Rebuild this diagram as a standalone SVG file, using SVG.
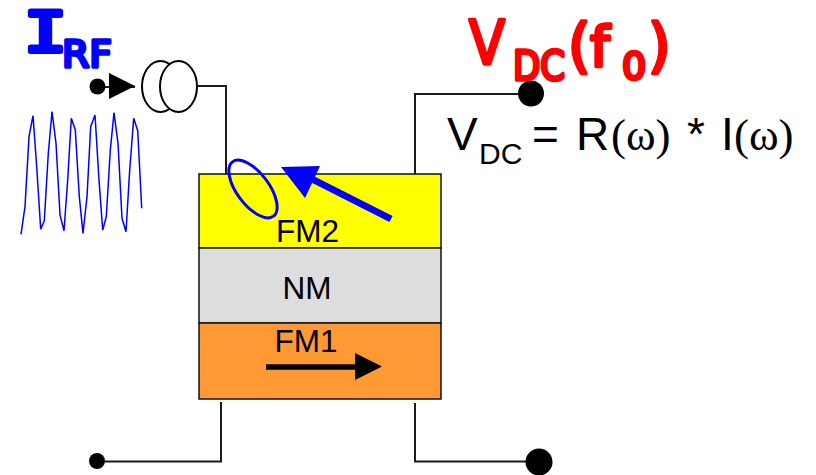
<svg xmlns="http://www.w3.org/2000/svg" width="816" height="475" viewBox="0 0 816 475">
<style>
.w{fill:none;stroke:#1a1a1a;stroke-width:2}
.lay{stroke:#111;stroke-width:1.5}
.t{font-family:"Liberation Sans",Arial,sans-serif;fill:#000}
.s{font-family:"Liberation Serif",serif;fill:#000}
.blue{font-family:"DejaVu Sans",sans-serif;fill:#00f;stroke:#00f;stroke-width:3.500;stroke-linejoin:round}
.red{font-family:"DejaVu Sans",sans-serif;fill:#f00;stroke:#f00;stroke-width:3.500;stroke-linejoin:round}
.dot{fill:#000}
</style>
<rect width="816" height="475" fill="#fff"/>
<g id="connectors">
<path class="w" d="M198 86H226V174"/>
<path class="w" d="M415 174V94H530"/>
<path class="w" d="M221 402V461.500H97"/>
<path class="w" d="M415 403V461.500H539"/>
<path class="w" d="M97 87H135"/>
<path d="M109 73L135 86L109 99Z" fill="#000"/>
</g>
<g id="stack">
<g id="fm2"><rect class="lay" x="199" y="174" width="242" height="74" fill="#ff0"/><text class="t" x="307.500" y="241.500" font-size="31.500" text-anchor="middle">FM2</text></g>
<g id="nm"><rect class="lay" x="199" y="248" width="242" height="75" fill="#ddd"/><text class="t" x="307" y="299" font-size="31.500" text-anchor="middle">NM</text></g>
<g id="fm1"><rect class="lay" x="199" y="323" width="242" height="76" fill="#f93"/><text class="t" x="306" y="351.500" font-size="31.500" text-anchor="middle">FM1</text></g>
</g>
<g id="fm1-arrow"><path d="M266 367H360" stroke="#000" stroke-width="5.500" fill="none"/><path d="M355 353L382 366.500L355 380Z" fill="#000"/></g>
<g id="fm2-arrow"><path d="M391 219L310 178" stroke="#00f" stroke-width="7" fill="none"/><path d="M281 167L320 166L305 198Z" fill="#00f"/></g>
<g id="loop"><ellipse cx="253" cy="189" rx="16" ry="34" transform="rotate(-37 253 189)" fill="none" stroke="#00f" stroke-width="3"/></g>
<g id="source">
<ellipse cx="160.500" cy="86.500" rx="18.500" ry="25.500" fill="#fff" stroke="#000" stroke-width="2"/>
<ellipse cx="178.500" cy="86.500" rx="18.500" ry="25.500" fill="#fff" stroke="#000" stroke-width="2"/>
</g>
<g id="dots">
<circle class="dot" cx="97.500" cy="86.500" r="8"/>
<circle class="dot" cx="531" cy="93.500" r="13"/>
<circle class="dot" cx="97" cy="461" r="8"/>
<circle class="dot" cx="539" cy="462" r="13.500"/>
</g>
<g id="rf-wave"><path d="M21 234.300L25 206.700L29 136.700L33 115.700L36.700 166.700L40.700 229.300L44.300 220.700L48.300 153.300L52 111.700L56 143.300L60 215L64 230.700L67.700 180L71.300 118.300L75.300 130L79.300 196.700L83 233.300L87 196.700L90.700 126.700L95 115L99 180L102.700 230L106.300 216.700L110.300 150L114 112.700L118 143.300L122 218.300L126 231.700L129.700 170L133.700 118.300L137.700 130.700L141.700 208.300" fill="none" stroke="#00f" stroke-width="1.500"/></g>
<g id="labels">
<text class="blue" x="24" y="51" font-size="56" textLength="43" lengthAdjust="spacingAndGlyphs" style="font-family:'DejaVu Sans Mono',monospace;stroke-width:5">I</text>
<text class="blue" x="62" y="67" font-size="38" textLength="50" lengthAdjust="spacingAndGlyphs">RF</text>
<text class="red" font-size="60"><tspan x="469" y="64" textLength="36" lengthAdjust="spacingAndGlyphs">V</tspan><tspan x="513" y="80" font-size="40" textLength="52" lengthAdjust="spacingAndGlyphs">DC</tspan><tspan x="568" y="66" font-size="58">(</tspan><tspan x="590" y="66" font-size="56">f</tspan><tspan x="622" y="79" font-size="38">0</tspan><tspan x="648" y="66" font-size="58">)</tspan></text>
<text class="t" x="447" y="150" font-size="46">V</text>
<text class="t" x="479" y="163.500" font-size="30">DC</text>
<text class="t" x="532" y="150" font-size="46">=</text>
<text class="t" x="576" y="150" font-size="46">R</text>
<text class="s" x="611" y="150" font-size="45">(ω)</text>
<text class="t" x="687" y="150" font-size="46">*</text>
<text class="t" x="721" y="150" font-size="46">I</text>
<text class="s" x="734" y="150" font-size="45">(ω)</text>
</g>
</svg>
